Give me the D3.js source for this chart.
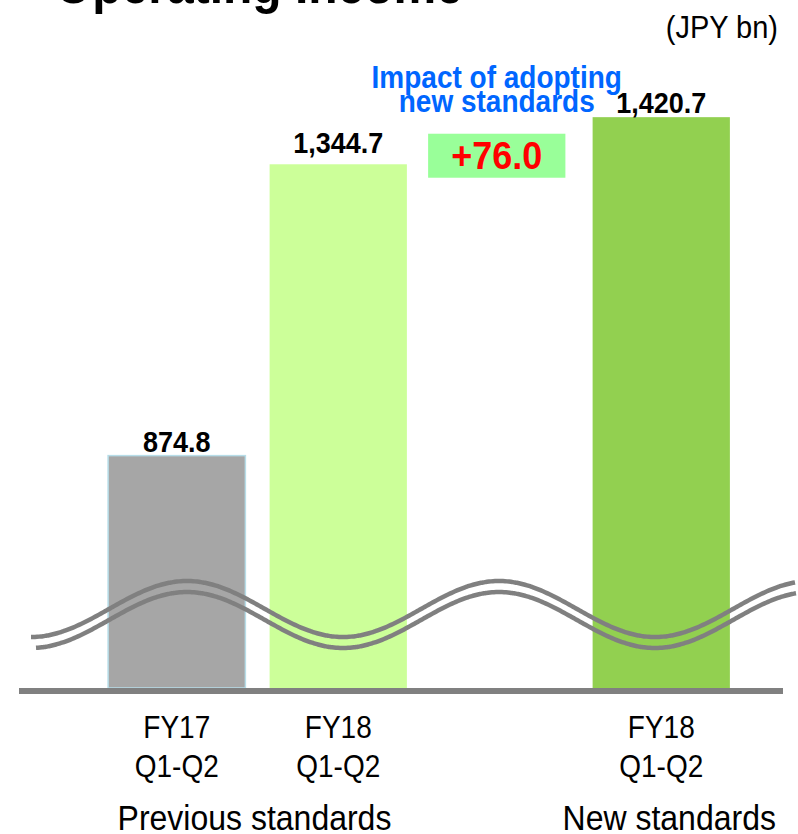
<!DOCTYPE html>
<html>
<head>
<meta charset="utf-8">
<script src="https://cdn.jsdelivr.net/npm/d3@7"></script>
<style>
  html, body { margin: 0; padding: 0; background: #fff; }
  svg { display: block; font-family: "Liberation Sans", Arial, sans-serif; }
</style>
</head>
<body>
<svg id="chart" width="798" height="834"></svg>
<script>
// ---- data ----
const slots = ["prev17", "prev18", "impact", "new18"];
const barKeys = ["prev17", "prev18", "new18"];
const barValues = [874.8, 1344.7, 1420.7];
const barLabels = ["874.8", "1,344.7", "1,420.7"];
const catLine1 = ["FY17", "FY18", "FY18"];
const catLine2 = ["Q1-Q2", "Q1-Q2", "Q1-Q2"];
const impactValue = 76.0;
const impactLabel = "+76.0";
const impactTitle = ["Impact of adopting", "new standards"];
const groupLabels = ["Previous standards", "New standards"];
const titleText = "Operating Income";
const unitText = "(JPY bn)";
const barColors = ["#a6a6a6", "#ccff99", "#92d050"];

// ---- layout ----
const svg = d3.select("#chart");
const baseY = 688;
const SY = 1.1; // slight vertical stretch of text seen in the reference

const x = d3.scaleBand().domain(slots).range([96, 742]).paddingInner(0.15).paddingOuter(0.075);
const y = d3.scaleLinear().domain([500, 1500]).range([baseY, baseY - 620]);

function txt(g, tx, ty, s, opts) {
  return g.append("text")
    .attr("transform", `translate(${tx},${ty}) scale(1,${SY})`)
    .attr("text-anchor", opts.anchor || "middle")
    .attr("font-size", opts.size)
    .attr("font-weight", opts.bold ? "bold" : "normal")
    .attr("fill", opts.fill || "#000")
    .text(s);
}

// title (cut off at top)
txt(svg, 55, 3, titleText, { anchor: "start", size: 48, bold: true });
txt(svg, 778, 38, unitText, { anchor: "end", size: 29 });

// bars
const bars = barKeys.map((k, i) => ({ key: k, value: barValues[i], label: barLabels[i], color: barColors[i], c1: catLine1[i], c2: catLine2[i] }));

svg.selectAll("rect.bar").data(bars).join("rect")
  .attr("class", "bar")
  .attr("x", d => x(d.key))
  .attr("width", x.bandwidth())
  .attr("y", d => y(d.value))
  .attr("height", d => baseY - y(d.value))
  .attr("fill", d => d.color)
  .attr("stroke", (d, i) => i === 0 ? "#b7dde8" : "none")
  .attr("stroke-width", 1.5);

bars.forEach((d, i) => {
  const gap = i === 1 ? 11 : 4;
  txt(svg, x(d.key) + x.bandwidth() / 2, y(d.value) - gap, d.label, { size: 27, bold: true });
});

// impact box
const bx = x("impact") - 3;
const boxCenter = (y(barValues[1]) + y(barValues[2])) / 2 + 15;
svg.append("rect")
  .attr("x", bx).attr("width", x.bandwidth())
  .attr("y", boxCenter - 22).attr("height", 44)
  .attr("fill", "#99ff99");
txt(svg, bx + x.bandwidth() / 2, boxCenter + 13, impactLabel, { size: 36, bold: true, fill: "#ff0000" });

impactTitle.forEach((t, i) => {
  txt(svg, bx + x.bandwidth() / 2, 88 + i * 24, t, { size: 28, bold: true, fill: "#0066ff" });
});

// wavy break lines
const wave = (x0, x1, dy) => d3.range(x0, x1 + 0.5, 2).map(px => [px, 609 + dy - 28 * Math.cos(2 * Math.PI * (px - 187) / 312)]);
const line = d3.line().curve(d3.curveBasis);
svg.append("path").attr("d", line(wave(31, 795, 0)))
  .attr("fill", "none").attr("stroke", "#808080").attr("stroke-width", 4.5);
svg.append("path").attr("d", line(wave(36, 797, 11)))
  .attr("fill", "none").attr("stroke", "#808080").attr("stroke-width", 4.5);

// baseline axis
svg.append("rect").attr("x", 19).attr("y", baseY).attr("width", 764).attr("height", 6).attr("fill", "#808080");

// category labels
bars.forEach(d => {
  const cx = x(d.key) + x.bandwidth() / 2;
  txt(svg, cx, 738, d.c1, { size: 28 });
  txt(svg, cx, 777, d.c2, { size: 28 });
});

// group labels
txt(svg, (x("prev17") + x("prev18") + x.bandwidth()) / 2 - 3, 830, groupLabels[0], { size: 32 });
txt(svg, x("new18") + x.bandwidth() / 2 + 8, 830, groupLabels[1], { size: 32 });
</script>
</body>
</html>
